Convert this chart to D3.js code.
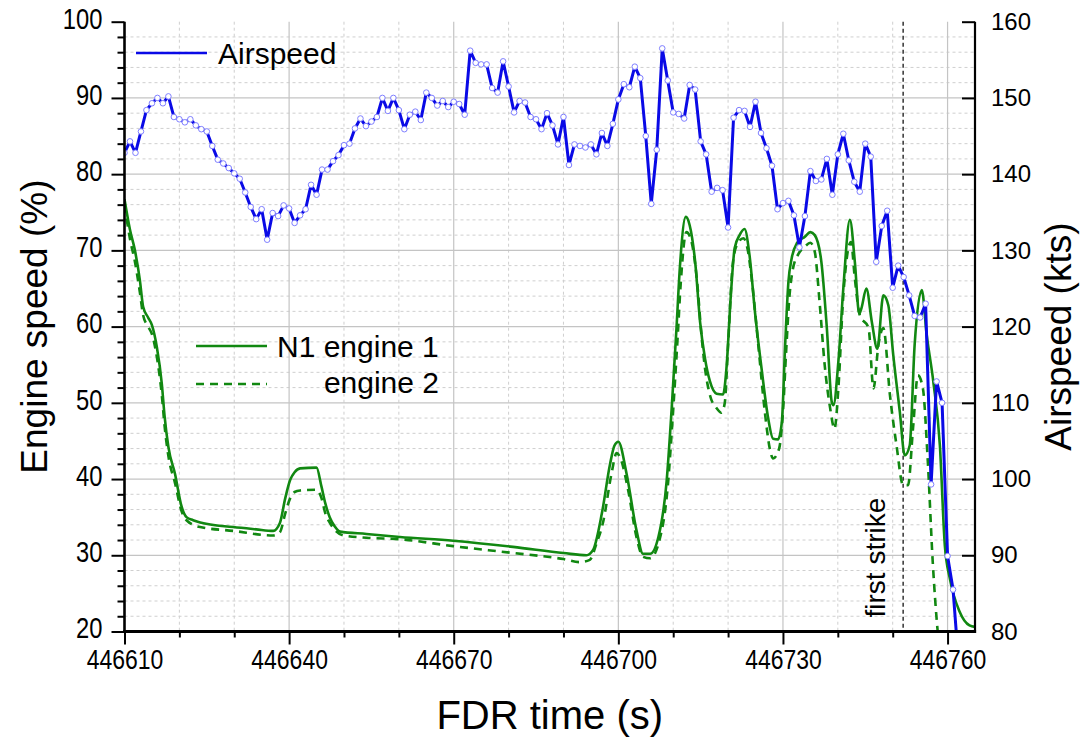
<!DOCTYPE html>
<html>
<head>
<meta charset="utf-8">
<script src="https://cdn.jsdelivr.net/npm/d3@7"></script>
<style>
  body { margin: 0; background: #fff; }
  svg { display: block; font-family: "Liberation Sans", Arial, sans-serif; }
</style>
</head>
<body>
<div id="chart" style="width:1092px;height:742px"></div>
<script>
// FDR time of the first airspeed sample, one sample per second after that
const startTime = 446610;
const airspeedKts = [
  142.8, 144.3, 142.8, 145.6, 148.4, 149.3, 150.0, 149.3, 150.2, 147.5,
  147.2, 146.8, 147.2, 146.4, 145.9, 145.6, 143.7, 141.9, 141.4, 140.8,
  140.1, 139.4, 137.6, 135.7, 134.1, 135.4, 131.4, 134.9, 134.5, 135.9,
  135.5, 133.6, 134.6, 135.4, 138.6, 137.3, 140.6, 140.6, 141.7, 142.5,
  143.8, 144.0, 146.0, 147.3, 146.3, 146.9, 147.5, 150.0, 148.3, 150.0,
  148.4, 145.9, 147.8, 148.2, 147.1, 150.7, 150.0, 149.0, 149.6, 148.8,
  149.5, 149.2, 147.8, 156.2, 154.6, 154.4, 154.4, 151.3, 150.7, 154.8,
  151.5, 148.1, 149.6, 149.4, 147.5, 147.2, 145.9, 148.0, 146.4, 143.9,
  147.5, 141.2, 143.9, 143.7, 143.5, 143.9, 142.6, 145.4, 143.7, 146.6,
  149.8, 151.8, 151.4, 154.1, 152.6, 145.0, 136.1, 143.2, 156.5, 152.3,
  148.1, 147.9, 147.3, 151.7, 151.1, 144.3, 142.6, 137.7, 138.2, 137.9,
  133.0, 147.4, 148.4, 148.3, 146.2, 149.5, 145.4, 143.4, 141.1, 135.4,
  136.2, 136.5, 134.6, 130.4, 134.5, 140.4, 139.1, 139.3, 142.0, 137.3,
  142.6, 145.3, 141.8, 139.0, 137.7, 144.0, 142.3, 128.5, 133.2, 135.2,
  125.1, 128.0, 126.5, 124.1, 121.4, 121.2, 123.0, 99.3, 112.8, 110.0,
  89.9, 85.5, 76.0
];

// N1 samples: seconds after startTime, percent
const eng1Sec = [
  0, 1, 1.9, 2.8, 3.4, 4.3, 5, 5.9, 6.8, 7.3, 8, 9.2, 10.4, 11.3, 12.5, 13.8,
  19.8, 24, 27.1, 28.3, 29.3, 30.2, 31, 32, 35, 35.9, 36.6, 37.4, 38.3, 39.3,
  44.1, 50.2, 59.9, 70.8, 80, 84.2, 85.4, 87, 88.5, 89.3, 90, 91.5, 93.3, 94.5,
  95.8, 97.3, 98.8, 99.7, 100.6, 101.2, 102.3, 103, 104, 104.9, 105.8, 106.7,
  107.9, 109.1, 109.7, 110.5, 111.2, 112.1, 113, 113.9, 114.9, 116.1, 117.3,
  118.2, 119.1, 119.8, 120.4, 121, 121.6, 122.5, 124, 125, 125.8, 127, 128,
  128.9, 129.2, 130.1, 131, 132.2, 133.1, 133.9, 134.3, 135.2, 136.2, 137.2,
  138.3, 139.2, 140.1, 141.3, 142.2, 143.1, 144, 145.3, 146.2, 147.4, 148.6,
  149.5, 150.4, 152.2, 154, 155
];
const eng1Pct = [
  76.7, 72.7, 70.0, 66.1, 62.6, 61.2, 60.2, 57.3, 52.5, 48.3, 44.2, 40.7, 36.4, 35.0, 34.6, 34.3,
  33.7, 33.4, 33.2, 34.2, 37.5, 39.9, 40.9, 41.4, 41.5, 39.0, 36.8, 35.0, 33.8, 33.1,
  32.8, 32.4, 31.9, 31.1, 30.3, 30.0, 30.7, 35.5, 42.0, 44.4, 44.9, 40.7, 33.3, 30.2,
  30.2, 32.4, 39.7, 49.0, 59.8, 67.6, 74.4, 73.3, 68.5, 60.6, 55.8, 52.8,
  51.2, 51.1, 54.5, 64.1, 70.3, 72.0, 72.8, 69.4, 61.9, 54.5, 48.0,
  45.3, 45.2, 47.5, 57.6, 65.9, 69.0, 70.9, 71.8, 72.4, 72.0, 68.5, 59.8,
  50.1, 49.7, 55.4, 65.0, 74.0, 68.5, 61.7, 62.4, 65.0, 60.6, 57.1,
  64.1, 62.8, 56.3, 48.8, 43.1, 44.4, 57.6, 64.8, 58.9, 52.8, 44.4,
  31.3, 27.0, 22.6, 20.8, 20.6
];
const eng2Sec = [
  0, 1, 1.9, 2.8, 3.4, 4.3, 5, 5.9, 6.8, 7.3, 8, 9.2, 10.4, 11.3, 13.8, 19.8,
  27.1, 28.3, 29.3, 30.2, 31, 32, 35, 35.9, 36.6, 37.4, 38.5, 40, 44.1, 50.2,
  59.9, 70.8, 80, 83, 84.8, 86, 87.3, 88.7, 89.7, 90.5, 91.8, 93.3, 94.5, 95.8,
  97.5, 99, 99.9, 100.8, 101.4, 102.4, 103.2, 104.3, 105.2, 105.8, 106.7, 107.9,
  108.8, 109.4, 110, 110.9, 111.8, 112.8, 113.6, 114.3, 115.5, 116.7, 117.6,
  118.2, 119.3, 120, 120.6, 121.2, 121.8, 122.8, 124, 125, 125.8, 126.7, 127.6,
  128.6, 129.4, 130.1, 131, 132.4, 133.1, 134, 135.6, 136.5, 137.4, 138.3,
  139.5, 140.7, 141.9, 142.8, 143.7, 144.6, 145.5, 146.4, 147.3, 148.2, 149
];
const eng2Pct = [
  76.0, 71.5, 68.5, 64.5, 61.5, 60.0, 59.0, 56.0, 51.0, 47.0, 43.0, 39.5, 35.8, 34.6, 33.7, 33.2,
  32.6, 33.0, 35.5, 37.5, 38.3, 38.5, 38.6, 37.5, 35.5, 34.3, 33.2, 32.6, 32.3, 32.1,
  31.2, 30.3, 29.5, 29.1, 29.4, 31.5, 34.6, 40.5, 43.4, 42.5, 38.5, 32.4, 29.8, 29.6,
  32.0, 39.0, 48.0, 58.5, 66.0, 72.4, 71.5, 66.3, 58.5, 54.5, 51.0, 49.3,
  48.7, 50.0, 57.6, 68.5, 71.0, 71.6, 70.0, 66.3, 57.6, 48.8, 44.0,
  42.7, 44.0, 48.8, 57.0, 64.1, 67.5, 69.5, 70.5, 71.0, 69.8, 63.0, 55.0,
  49.3, 46.6, 51.9, 64.1, 71.1, 66.3, 61.5, 59.8, 51.9, 57.6, 59.8,
  51.0, 44.4, 39.2, 39.2, 46.6, 53.6, 51.9, 42.3, 29.1, 20.0, 15.0
];

const xTicks = [446610, 446640, 446670, 446700, 446730, 446760];
const leftTicks = [20, 30, 40, 50, 60, 70, 80, 90, 100];
const rightTicks = [80, 90, 100, 110, 120, 130, 140, 150, 160];
const strikeTime = 446751.9;

const margin = { top: 21.7, right: 117, bottom: 110.5, left: 124.5 },
    width = 1092 - margin.left - margin.right,
    height = 742 - margin.top - margin.bottom;

const narrow = 0.82; // condensed look of the tick labels

const svg = d3.select("#chart")
    .append("svg")
    .attr("width", 1092)
    .attr("height", 742)
    .append("g")
    .attr("transform", `translate(${margin.left},${margin.top})`);

const x = d3.scaleLinear().domain([446610, 446765]).range([0, width]);
const yL = d3.scaleLinear().domain([20, 100]).range([height, 0]);
const yR = d3.scaleLinear().domain([80, 160]).range([height, 0]);

svg.append("clipPath").attr("id", "plot-clip")
    .append("rect").attr("width", width).attr("height", height);

// grid: dashed minor lines, solid major lines
const minorX = d3.range(446620, 446765, 10).filter(d => (d - 446610) % 30 !== 0);
const minorY = d3.range(22, 100, 2).filter(d => d % 10 !== 0);
const grid = svg.append("g");
grid.selectAll(".gxm").data(minorX).enter().append("line")
    .attr("x1", d => x(d)).attr("x2", d => x(d)).attr("y1", 0).attr("y2", height)
    .attr("stroke", "#cfcfcf").attr("stroke-dasharray", "3,3");
grid.selectAll(".gym").data(minorY).enter().append("line")
    .attr("y1", d => yL(d)).attr("y2", d => yL(d)).attr("x1", 0).attr("x2", width)
    .attr("stroke", "#cfcfcf").attr("stroke-dasharray", "3,3");
grid.selectAll(".gx").data(xTicks.slice(1)).enter().append("line")
    .attr("x1", d => x(d)).attr("x2", d => x(d)).attr("y1", 0).attr("y2", height)
    .attr("stroke", "#c4c4c4").attr("stroke-width", 1.2);
grid.selectAll(".gy").data(leftTicks.slice(1, -1)).enter().append("line")
    .attr("y1", d => yL(d)).attr("y2", d => yL(d)).attr("x1", 0).attr("x2", width)
    .attr("stroke", "#c4c4c4").attr("stroke-width", 1.2);

// first strike marker
svg.append("line")
    .attr("x1", x(strikeTime)).attr("x2", x(strikeTime))
    .attr("y1", 0).attr("y2", height - 3)
    .attr("stroke", "black").attr("stroke-width", 1.2)
    .attr("stroke-dasharray", "4,3");
svg.append("text")
    .attr("transform", `translate(${x(strikeTime) - 18},${height - 14}) rotate(-90)`)
    .style("font-size", "28px")
    .text("first strike");

const plot = svg.append("g").attr("clip-path", "url(#plot-clip)");
const green = "#118811";

const engLine = d3.line()
    .x(d => x(startTime + d[0]))
    .y(d => yL(d[1]))
    .curve(d3.curveMonotoneX);

plot.append("path")
    .datum(eng2Sec.map((s, i) => [s, eng2Pct[i]]))
    .attr("fill", "none").attr("stroke", green).attr("stroke-width", 2.6)
    .attr("stroke-dasharray", "8,6")
    .attr("d", engLine);

plot.append("path")
    .datum(eng1Sec.map((s, i) => [s, eng1Pct[i]]))
    .attr("fill", "none").attr("stroke", green).attr("stroke-width", 2.6)
    .attr("d", engLine);

const airData = airspeedKts.map((v, i) => ({ t: startTime + i, v: v }));
plot.append("path")
    .datum(airData)
    .attr("fill", "none").attr("stroke", "#0a0ae6").attr("stroke-width", 3)
    .attr("stroke-linejoin", "round")
    .attr("d", d3.line().x(d => x(d.t)).y(d => yR(d.v)));

plot.selectAll(".dot").data(airData).enter().append("circle")
    .attr("class", "dot")
    .attr("cx", d => x(d.t)).attr("cy", d => yR(d.v)).attr("r", 2.8)
    .attr("fill", "white").attr("stroke", "#7f7fff").attr("stroke-width", 1);

// axes
function styleAxis(g, size) {
    g.select(".domain").remove();
    g.selectAll(".tick line").attr("stroke", "black").attr("stroke-width", 2);
    g.selectAll("text").style("font-size", size).attr("fill", "black");
}

svg.append("g")
    .attr("transform", `translate(0,${height})`)
    .call(d3.axisBottom(x).tickValues(minorX).tickSize(6).tickFormat(""))
    .call(g => styleAxis(g, "24px"));
svg.append("g")
    .attr("transform", `translate(0,${height})`)
    .call(d3.axisBottom(x).tickValues(xTicks).tickSize(13).tickPadding(5).tickFormat(d3.format("d")))
    .call(g => styleAxis(g, "28px"))
    .call(g => g.selectAll("text").attr("transform", `scale(${narrow},1)`));

svg.append("g")
    .call(d3.axisLeft(yL).tickValues(minorY).tickSize(7).tickFormat(""))
    .call(g => styleAxis(g, "26px"));
svg.append("g")
    .call(d3.axisLeft(yL).tickValues(leftTicks).tickSize(13).tickPadding(9))
    .call(g => styleAxis(g, "29px"))
    .call(g => g.selectAll("text").attr("x", -22 / narrow).attr("dy", "0.22em")
        .attr("transform", `scale(${narrow},1)`));

svg.append("g")
    .attr("transform", `translate(${width},0)`)
    .call(d3.axisRight(yR).tickValues(rightTicks).tickSize(-13).tickPadding(16))
    .call(g => styleAxis(g, "24px"));

// axis lines
svg.append("line").attr("x1", 0).attr("x2", 0).attr("y1", 0).attr("y2", height + 1.5)
    .attr("stroke", "black").attr("stroke-width", 2.6);
svg.append("line").attr("x1", width).attr("x2", width).attr("y1", 0).attr("y2", height + 1.5)
    .attr("stroke", "black").attr("stroke-width", 2.2);
svg.append("line").attr("x1", -1.3).attr("x2", width + 1.1).attr("y1", height).attr("y2", height)
    .attr("stroke", "black").attr("stroke-width", 3);

// axis titles
svg.append("text")
    .attr("x", width / 2).attr("y", height + 98)
    .attr("text-anchor", "middle").style("font-size", "40px")
    .text("FDR time (s)");
svg.append("text")
    .attr("transform", `translate(${47 - margin.left},${height / 2}) rotate(-90)`)
    .attr("text-anchor", "middle").style("font-size", "37px")
    .text("Engine speed (%)");
svg.append("text")
    .attr("transform", `translate(${width + 96},${height / 2 + 10}) rotate(-90)`)
    .attr("text-anchor", "middle").style("font-size", "37px")
    .text("Airspeed (kts)");

// legends
const legend = svg.append("g").attr("transform", `translate(${-margin.left},${-margin.top})`);
legend.append("line").attr("x1", 136).attr("x2", 207).attr("y1", 53).attr("y2", 53)
    .attr("stroke", "#0a0ae6").attr("stroke-width", 2.6);
legend.append("text").attr("x", 218).attr("y", 64).style("font-size", "30px").text("Airspeed");
legend.append("line").attr("x1", 196).attr("x2", 267).attr("y1", 346).attr("y2", 346)
    .attr("stroke", green).attr("stroke-width", 2.6);
legend.append("text").attr("x", 277).attr("y", 357).style("font-size", "30px").text("N1 engine 1");
legend.append("line").attr("x1", 196).attr("x2", 267).attr("y1", 384).attr("y2", 384)
    .attr("stroke", green).attr("stroke-width", 2.6).attr("stroke-dasharray", "8,6");
legend.append("text").attr("x", 439).attr("y", 393).attr("text-anchor", "end")
    .style("font-size", "30px").text("engine 2");
</script>
</body>
</html>
